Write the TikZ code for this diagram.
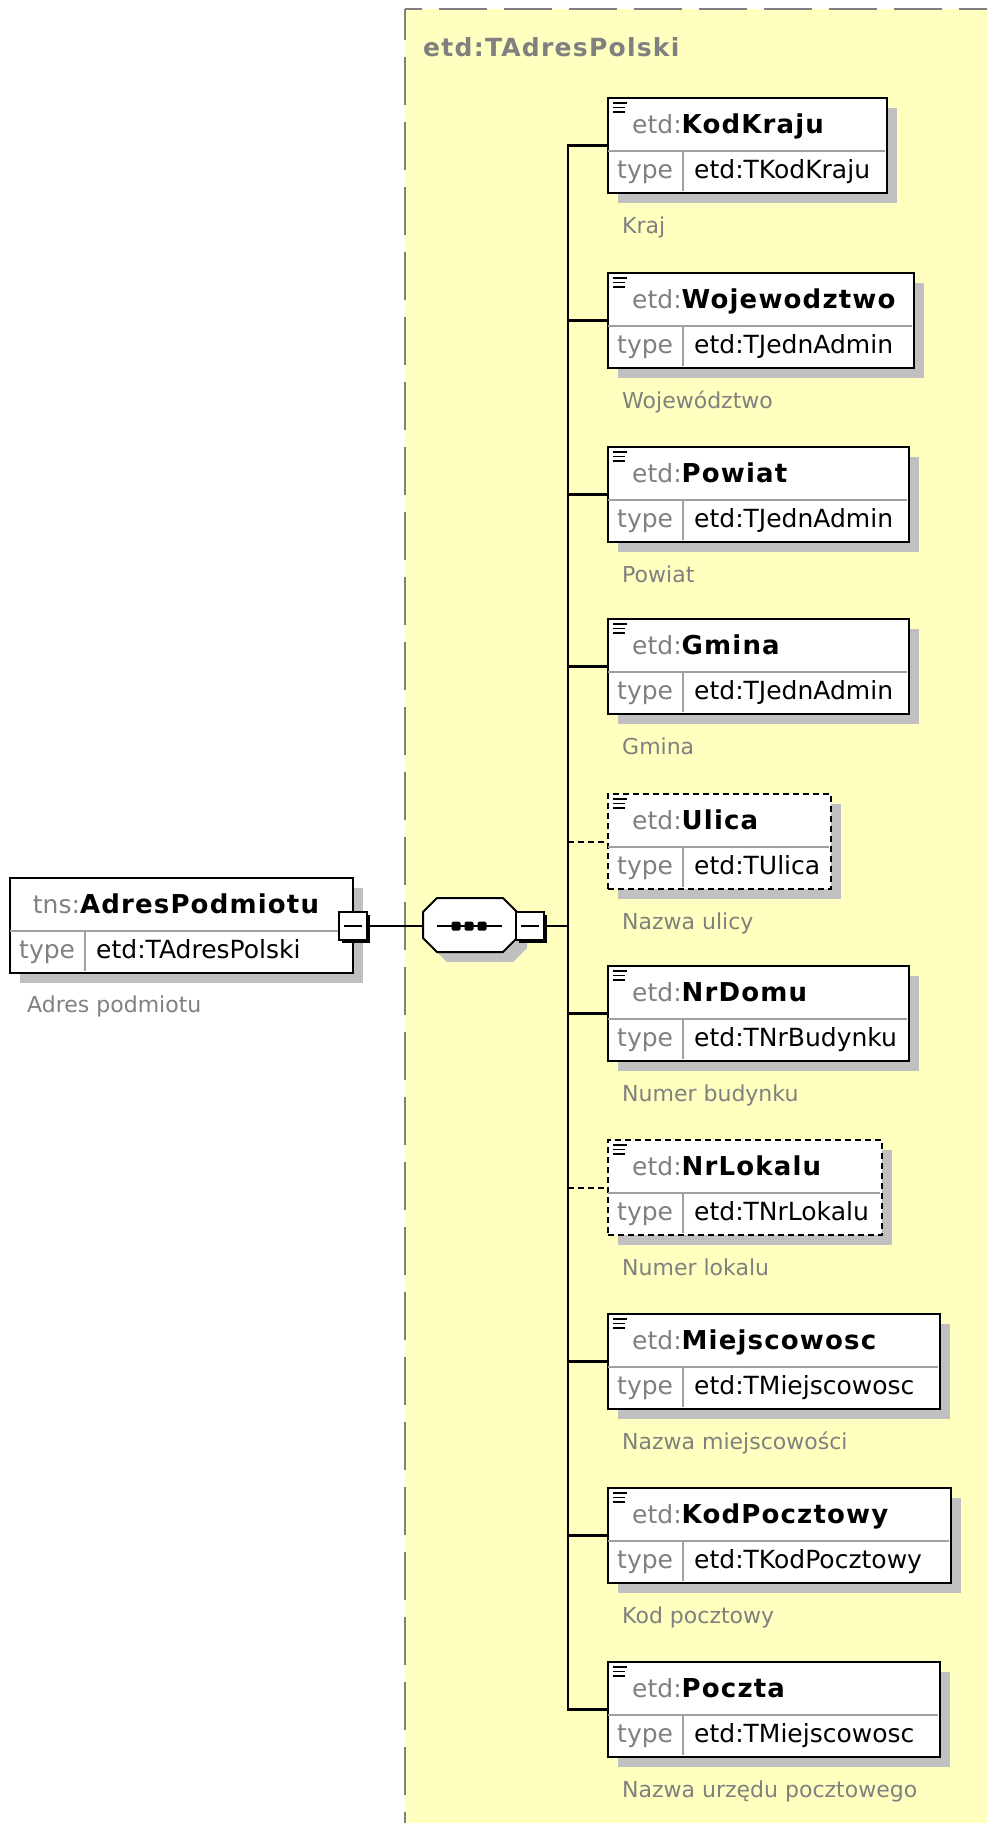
\documentclass[tikz,border=0pt]{standalone}
\usepackage{fontspec}
\setmainfont{DejaVu Sans}
\newfontfamily\boldwide[LetterSpace=4.5]{DejaVu Sans Bold}
\newfontfamily\boldlabel[LetterSpace=5]{DejaVu Sans Bold}
\usetikzlibrary{calc,shadows}
\definecolor{yel}{RGB}{255,255,192}
\definecolor{shad}{RGB}{192,192,192}
\definecolor{txtgray}{RGB}{128,128,128}
\definecolor{divgray}{RGB}{160,160,160}
\newcommand\elname[1]{{\fontsize{26}{30}\boldwide #1}}
\tikzset{
  elbox/.style={draw=black, line width=2pt, fill=white, inner sep=0pt,
    minimum height=95pt, anchor=north west,
    drop shadow={shadow xshift=10pt, shadow yshift=-10pt, fill=shad, opacity=1}},
  optbox/.style={elbox, dash pattern=on 6pt off 4pt},
  minusbox/.style={draw=black, line width=1.8pt, fill=white, inner sep=0pt,
    minimum size=28pt,
    drop shadow={shadow xshift=2.5pt, shadow yshift=-2.5pt, fill=black, opacity=1}},
  txt/.style={inner sep=0pt, anchor=base west, font=\fontsize{25}{30}\selectfont},
  desc/.style={inner sep=0pt, anchor=base west, font=\fontsize{22}{27}\selectfont, text=txtgray},
  conn/.style={line width=2.5pt, line join=miter},
  optconn/.style={line width=2pt, dash pattern=on 6pt off 4pt},
  divider/.style={draw=divgray, line width=1.6pt},
  bdash/.style={draw=txtgray, line width=2.5pt, dash pattern=on 48pt off 17pt},
  iconline/.style={line width=1.8pt},
}
% #1 name, #2 top, #3 right, #4 element, #5 type, #6 description, #7 box style
\newcommand\xchild[7]{%
  \node[#7, minimum width={(#3-607)*1pt}] (#1) at (607,#2) {};
  \draw[divider] (608,#2+54) -- (#3-1,#2+54);
  \draw[divider] (683,#2+54) -- (683,#2+94);
  \draw[iconline] (613,#2+6) -- (627,#2+6);
  \draw[iconline] (613,#2+10.5) -- (625,#2+10.5);
  \draw[iconline] (613,#2+15) -- (625,#2+15);
  \node[txt] (#1h) at (632,#2+36) {\textcolor{txtgray}{etd:}\elname{#4}};
  \node[txt, text=txtgray] (#1t) at (617,#2+81) {type};
  \node[txt] (#1v) at (694,#2+81) {#5};
  \node[desc] (#1d) at (622,#2+136) {#6};
}
\begin{document}
\begin{tikzpicture}[x=1pt,y=-1pt]
\useasboundingbox (0,0) rectangle (987,1823);
% complex type area
\fill[yel] (405,9) rectangle (1000,1830);
\draw[bdash, dash phase=31pt] (405,9) -- (1000,9);
\draw[bdash, dash phase=17pt] (405,9) -- (405,1830);
\node[inner sep=0pt, anchor=base west, text=txtgray, font=\fontsize{25}{29}\boldlabel] (ctype) at (423,56) {etd:TAdresPolski};

% main element
\node[elbox, minimum width=343pt] (main) at (9,877) {};
\draw[divider] (10,931) -- (351,931);
\draw[divider] (85,931) -- (85,971);
\node[txt, anchor=base] (mainh) at (176,913) {\textcolor{txtgray}{tns:}\elname{AdresPodmiotu}};
\node[txt, text=txtgray] (maint) at (19,958) {type};
\node[txt] (mainv) at (96,958) {etd:TAdresPolski};
\node[desc] (maind) at (27,1012) {Adres podmiotu};
\node[minusbox] (mminus) at (353,926) {};
\draw[line width=2pt] (344,926) -- (362,926);

% sequence compositor
\fill[shad] (433,922) -- (447,908) -- (513,908) -- (527,922) -- (527,948) -- (513,962) -- (447,962) -- (433,948) -- cycle;
\draw[line width=2pt, fill=white] (423,912) -- (437,898) -- (503,898) -- (517,912) -- (517,938) -- (503,952) -- (437,952) -- (423,938) -- cycle;
\coordinate (seqw) at (423,926);
\draw[line width=2pt] (437,926) -- (502,926);
\foreach \dx in {456,469,482} \fill[rounded corners=1.5pt] (\dx-4.5,921.5) rectangle (\dx+4.5,930.5);
\node[minusbox] (sminus) at (530,926) {};
\draw[line width=2pt] (521,926) -- (539,926);
\coordinate (bus) at (568,926);

\draw[conn] (mminus.east) -- (seqw);
\draw[conn] (sminus.east) -- (bus);

% children
\xchild{kod}{97}{886}{KodKraju}{etd:TKodKraju}{Kraj}{elbox}
\xchild{woj}{272}{913}{Wojewodztwo}{etd:TJednAdmin}{Województwo}{elbox}
\xchild{pow}{446}{908}{Powiat}{etd:TJednAdmin}{Powiat}{elbox}
\xchild{gmi}{618}{908}{Gmina}{etd:TJednAdmin}{Gmina}{elbox}
\xchild{uli}{793}{830}{Ulica}{etd:TUlica}{Nazwa ulicy}{optbox}
\xchild{dom}{965}{908}{NrDomu}{etd:TNrBudynku}{Numer budynku}{elbox}
\xchild{lok}{1139}{881}{NrLokalu}{etd:TNrLokalu}{Numer lokalu}{optbox}
\xchild{mie}{1313}{939}{Miejscowosc}{etd:TMiejscowosc}{Nazwa miejscowości}{elbox}
\xchild{pcz}{1487}{950}{KodPocztowy}{etd:TKodPocztowy}{Kod pocztowy}{elbox}
\xchild{pocz}{1661}{939}{Poczta}{etd:TMiejscowosc}{Nazwa urzędu pocztowego}{elbox}

% bus and stubs
\draw[conn] (kod.west) -- (kod.west -| bus) -- (pocz.west -| bus) -- (pocz.west);
\foreach \n in {woj,pow,gmi,dom,mie,pcz}
  \draw[conn] (\n.west -| bus) -- (\n.west);
\foreach \n in {uli,lok}
  \draw[optconn] (\n.west -| bus) -- (\n.west);
\end{tikzpicture}
\end{document}
